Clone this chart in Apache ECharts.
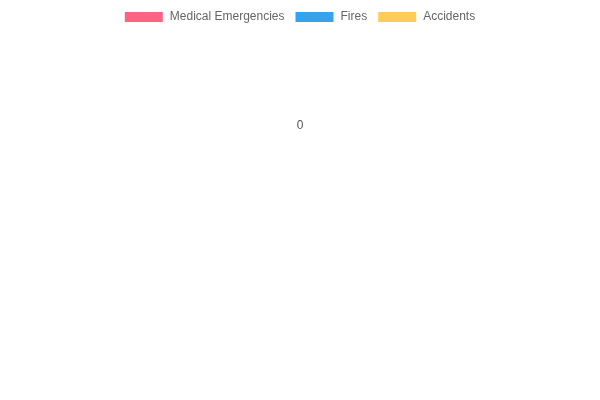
<!DOCTYPE html>
<html>
<head>
<meta charset="utf-8">
<script src="https://cdn.jsdelivr.net/npm/echarts@6/dist/echarts.min.js"></script>
<style>
html,body{margin:0;padding:0;background:#fff;}
#chart{width:600px;height:400px;}
</style>
</head>
<body>
<div id="chart"></div>
<script>
var seriesNames = ['Medical Emergencies', 'Fires', 'Accidents'];
var seriesColors = ['#ff6384', '#36a2eb', '#ffcd56'];
var tickLabels = ['0'];
var medicalValues = [];
var fireValues = [];
var accidentValues = [];
var allValues = [medicalValues, fireValues, accidentValues];

var chart = echarts.init(document.getElementById('chart'), null, {renderer: 'canvas'});
var font = '"Liberation Sans", Arial, Helvetica, sans-serif';
chart.setOption({
  backgroundColor: '#ffffff',
  animation: false,
  textStyle: {fontFamily: font},
  legend: {
    top: 6,
    left: 'center',
    itemWidth: 38,
    itemHeight: 10,
    itemGap: 11,
    icon: 'rect',
    textStyle: {color: '#666666', fontSize: 12, fontFamily: font, padding: [0, 0, 0, 2]},
    data: seriesNames
  },
  grid: {left: 250, right: 250, top: 110, height: 1},
  xAxis: {
    type: 'category',
    data: tickLabels,
    axisLine: {show: false},
    axisTick: {show: false},
    splitLine: {show: false},
    axisLabel: {color: '#555555', fontSize: 12, fontFamily: font, margin: 9}
  },
  yAxis: {type: 'value', show: false},
  series: seriesNames.map(function (n, i) {
    return {name: n, type: 'bar', data: allValues[i], itemStyle: {color: seriesColors[i]}};
  })
});
</script>
</body>
</html>
